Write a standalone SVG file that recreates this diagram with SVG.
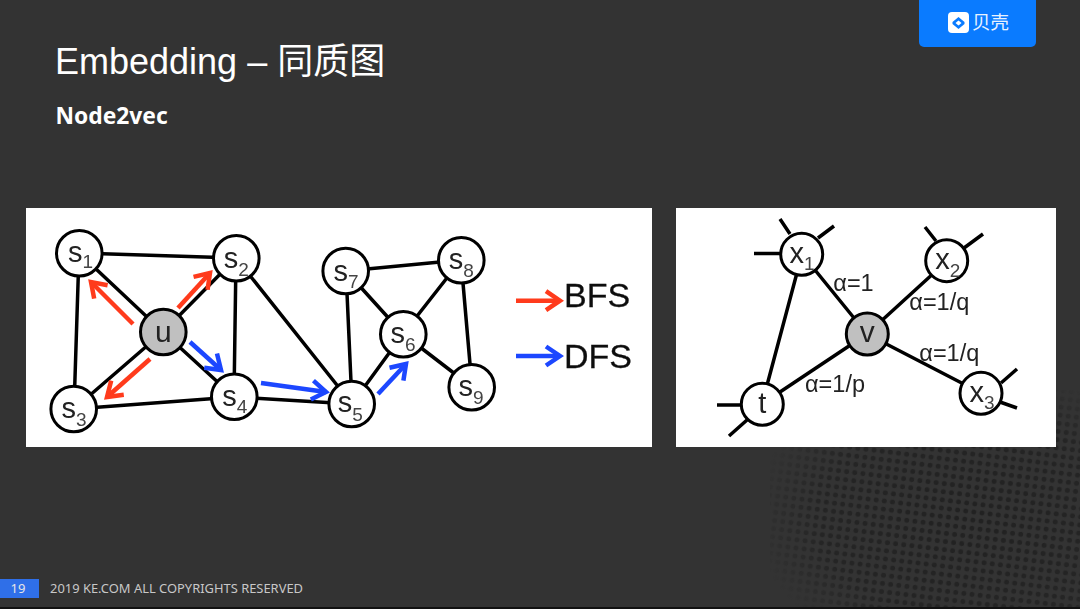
<svg xmlns="http://www.w3.org/2000/svg" width="1080" height="609" viewBox="0 0 1080 609">
<style>
.panel{fill:#fff}
.edge{stroke:#000;stroke-width:3.5;fill:none;stroke-linecap:butt}
.n{fill:#fff;stroke:#000;stroke-width:3}
.g{fill:#c0c0c0;stroke:#000;stroke-width:3}
.t{font-family:"Liberation Sans",Arial,sans-serif;fill:#222;font-size:29px}
.sub{font-size:19px;fill:#444}
.a{font-family:"Liberation Sans",Arial,sans-serif;fill:#222;font-size:23.500px}
.leg{font-family:"Liberation Sans",Arial,sans-serif;fill:#111;font-size:34px;stroke:#111;stroke-width:0.3}
.red{stroke:#ff3a1c;stroke-width:4.500;fill:none;marker-end:url(#hr)}
.blue{stroke:#1c46ff;stroke-width:4.500;fill:none;marker-end:url(#hb)}
</style>
<defs>
<marker id="hr" markerUnits="userSpaceOnUse" markerWidth="24" markerHeight="24" refX="20" refY="12" orient="auto" overflow="visible"><path d="M6,2.500 L20,12 L6,21.500" fill="none" stroke="#ff3a1c" stroke-width="4.500"/></marker>
<marker id="hb" markerUnits="userSpaceOnUse" markerWidth="24" markerHeight="24" refX="20" refY="12" orient="auto" overflow="visible"><path d="M6,2.500 L20,12 L6,21.500" fill="none" stroke="#1c46ff" stroke-width="4.500"/></marker>
<pattern id="dots" width="8.2" height="8.2" patternUnits="userSpaceOnUse" patternTransform="rotate(7)"><circle cx="4" cy="4" r="2.500" fill="#222"/></pattern>
<radialGradient id="fade" cx="0.6" cy="0.55" r="0.65"><stop offset="0" stop-color="#fff"/><stop offset="0.7" stop-color="#fff" stop-opacity="0.8"/><stop offset="1" stop-color="#fff" stop-opacity="0"/></radialGradient>
<mask id="m"><rect x="770" y="390" width="330" height="230" fill="url(#fade)"/></mask>
<filter id="soft" x="-5%" y="-5%" width="110%" height="110%"><feGaussianBlur stdDeviation="0.45"/></filter>
</defs>
<rect width="1080" height="609" fill="#333333"/>
<rect x="770" y="390" width="310" height="217" fill="url(#dots)" mask="url(#m)"/>
<rect y="607" width="1080" height="2" fill="#111"/>
<g id="logo"><path d="M919,0H1036V42a5,5 0 0 1 -5,5H924a5,5 0 0 1 -5,-5Z" fill="#0a7bff"/>
<rect x="948" y="12" width="21" height="21" rx="4" fill="#fff"/>
<path d="M952.500,22 L958.500,17 L964.500,22 L964.500,24 L958.500,29 L952.500,24Z" fill="#0a7bff"/>
<path d="M955.500,23 L958.500,20.500 L961.500,23 L958.500,25.500Z" fill="#fff"/>
<text x="972" y="29" font-family="'Noto Sans CJK SC',sans-serif" font-size="18.500" fill="#e8f2ff">贝壳</text></g>
<text id="title" x="55" y="74" font-family="'Liberation Sans','Noto Sans CJK SC',sans-serif" font-size="36" fill="#fff">Embedding – 同质图</text>
<text id="subtitle" x="55.500" y="124" font-family="'Noto Sans',sans-serif" font-weight="700" font-size="22.800" fill="#fff">Node2vec</text>
<g id="footer"><rect y="579" width="39" height="19" fill="#2f6fe8"/>
<text x="18" y="593" text-anchor="middle" font-family="'Noto Sans',sans-serif" font-size="13" fill="#e6e6e6">19</text>
<text x="50" y="593" font-family="'Noto Sans',sans-serif" font-size="13" fill="#c8c8c8" textLength="253" lengthAdjust="spacingAndGlyphs">2019 KE.COM ALL COPYRIGHTS RESERVED</text></g>
<rect class="panel" x="26" y="208" width="626" height="239"/>
<rect class="panel" x="676" y="208" width="380" height="239"/>
<g filter="url(#soft)">
<g id="connectors">
<path class="edge" d="M79,253L236,258M79,253L74,409M79,253L163,332M236,258L163,332M236,258L234,397M236,258L352,404M163,332L74,409M163,332L234,397M74,409L234,397M234,397L352,404M352,404L346,271M352,404L403,334M346,271L461,260M346,271L403,334M461,260L403,334M461,260L472,387M403,334L472,387"/>
<path class="edge" d="M802,254L867,334M802,254L762,404M947,261L867,334M981,393L867,334M762,404L867,334M780,219L790,234M834,226L818,238M754,253.500L781,253.500M925,227L936,241M983,234L964,248M1017,369L1001,383M1017,408L1000,402M717,405L742,405M729,436L747,420"/>
<line class="red" x1="133" y1="324" x2="91" y2="282"/>
<line class="red" x1="178" y1="308" x2="210" y2="273"/>
<line class="red" x1="150" y1="359" x2="107" y2="397"/>
<line class="blue" x1="190" y1="342" x2="221" y2="370"/>
<line class="blue" x1="261" y1="383" x2="326" y2="392"/>
<line class="blue" x1="378" y1="394" x2="406" y2="364"/>
<line class="red" x1="516" y1="300.700" x2="560" y2="300.700"/>
<line class="blue" x1="516" y1="356" x2="560" y2="356"/>
</g>
<g id="s1"><circle class="n" cx="79.300" cy="253.300" r="22.800"/><text class="t" x="68" y="262">s<tspan class="sub" dy="6">1</tspan></text></g>
<g id="s2"><circle class="n" cx="236.300" cy="258.300" r="22.800"/><text class="t" x="223.800" y="268">s<tspan class="sub" dy="8">2</tspan></text></g>
<g id="s3"><circle class="n" cx="73.700" cy="409" r="22.800"/><text class="t" x="61.500" y="418">s<tspan class="sub" dy="8">3</tspan></text></g>
<g id="s4"><circle class="n" cx="234.300" cy="396.700" r="22.800"/><text class="t" x="222.200" y="406">s<tspan class="sub" dy="7">4</tspan></text></g>
<g id="u"><circle class="g" cx="163.300" cy="332" r="22.800"/><text class="t" style="font-size:30px" x="163.300" y="341.700" text-anchor="middle">u</text></g>
<g id="s5"><circle class="n" cx="351.700" cy="404" r="22.800"/><text class="t" x="337.800" y="412.300">s<tspan class="sub" dy="9">5</tspan></text></g>
<g id="s6"><circle class="n" cx="403.300" cy="334.300" r="22.800"/><text class="t" x="390.500" y="343.300">s<tspan class="sub" dy="8">6</tspan></text></g>
<g id="s7"><circle class="n" cx="345.700" cy="271" r="22.800"/><text class="t" x="333.500" y="281">s<tspan class="sub" dy="7">7</tspan></text></g>
<g id="s8"><circle class="n" cx="461.300" cy="260.300" r="22.800"/><text class="t" x="448.800" y="269.300">s<tspan class="sub" dy="8">8</tspan></text></g>
<g id="s9"><circle class="n" cx="471.700" cy="387.300" r="22.800"/><text class="t" x="458.500" y="396">s<tspan class="sub" dy="8">9</tspan></text></g>
<text class="leg" x="564" y="307">BFS</text>
<text class="leg" x="564" y="368">DFS</text>
<g id="x1"><circle class="n" cx="801.700" cy="254.300" r="21"/><text class="t" x="789.500" y="263.300">x<tspan class="sub" dy="7">1</tspan></text></g>
<g id="x2"><circle class="n" cx="946.700" cy="260.700" r="21"/><text class="t" x="935.200" y="269">x<tspan class="sub" dy="8">2</tspan></text></g>
<g id="x3"><circle class="n" cx="981" cy="393.300" r="21"/><text class="t" x="969.500" y="401.700">x<tspan class="sub" dy="7">3</tspan></text></g>
<g id="t"><circle class="n" cx="762.300" cy="404.300" r="21"/><text class="t" x="762.300" y="413" text-anchor="middle">t</text></g>
<g id="v"><circle class="g" cx="867.300" cy="334" r="21"/><text class="t" style="font-size:30px" x="867.300" y="341.700" text-anchor="middle">v</text></g>
<text class="a" x="833.300" y="291">α=1</text>
<text class="a" x="909.300" y="310.300">α=1/q</text>
<text class="a" x="919.300" y="361">α=1/q</text>
<text class="a" x="805" y="392">α=1/p</text>
</g>
</svg>
